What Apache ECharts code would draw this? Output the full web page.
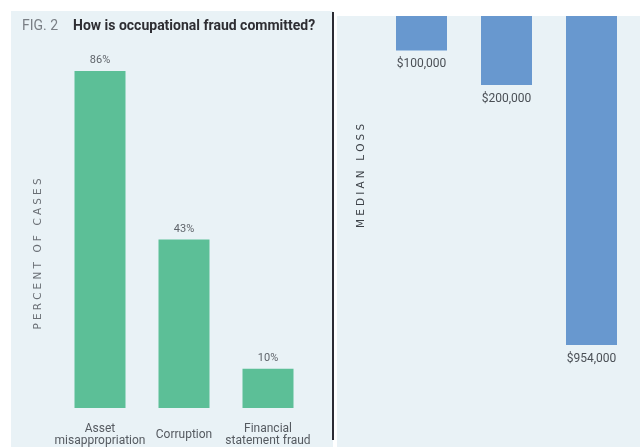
<!DOCTYPE html>
<html><head><meta charset="utf-8">
<script src="https://cdn.jsdelivr.net/npm/echarts@6/dist/echarts.min.js"></script>
<style>html,body{margin:0;padding:0;background:#fff}#c{width:640px;height:447px}</style>
</head><body><div id="c"></div>
<script>
const fraudCategories = ['Asset\nmisappropriation', 'Corruption', 'Financial\nstatement fraud'];
const percentOfCases = [86, 43, 10];
const medianLoss = [100000, 200000, 954000];
const leftAxisName = 'PERCENT OF CASES';
const rightAxisName = 'MEDIAN LOSS';

const FONT = "'Roboto', sans-serif";
const chart = echarts.init(document.getElementById('c'), null, {renderer: 'canvas'});
function spaced(s){return s.split('').join('\u2009\u200A');}
chart.setOption({
  backgroundColor: '#ffffff',
  animation: false,
  graphic: [
    {type:'rect', z:-10, shape:{x:11,y:11,width:322,height:436}, style:{fill:'#e9f2f6'}},
    {type:'rect', z:-10, shape:{x:337,y:16,width:303,height:431}, style:{fill:'#e9f2f6'}},
    {type:'line', z:5, shape:{x1:333,y1:12,x2:333,y2:440}, style:{stroke:'#2b2b33', lineWidth:2}},
    {type:'text', left:22, top:19, style:{text:'FIG. 2', font:"14px "+FONT, fill:'#7a7f85'}},
    {type:'text', left:73, top:19, style:{text:'How is occupational fraud committed?', font:"bold 14px "+FONT, fill:'#2e2e33'}},
    {type:'text', x:38, y:254, rotation:Math.PI/2, style:{text:spaced(leftAxisName), font:"10.5px 'DejaVu Sans', sans-serif", fill:'#6a6f75', align:'center', verticalAlign:'middle'}},
    {type:'text', x:361, y:176, rotation:Math.PI/2, style:{text:spaced(rightAxisName), font:"10.5px 'DejaVu Sans', sans-serif", fill:'#3d4248', align:'center', verticalAlign:'middle'}}
  ],
  grid: [
    {left:58, top:71, width:252, height:338},
    {left:379, top:16, width:255, height:420}
  ],
  xAxis: [
    {type:'category', gridIndex:0, data:fraudCategories, axisLine:{show:false}, axisTick:{show:false},
     axisLabel:{color:'#555a60', fontSize:12, fontFamily:FONT, lineHeight:12, margin:27, verticalAlign:'middle', interval:0}},
    {type:'category', gridIndex:1, data:fraudCategories, show:false}
  ],
  yAxis: [
    {type:'value', gridIndex:0, min:0, max:86, show:false},
    {type:'value', gridIndex:1, min:0, max:1218000, inverse:true, show:false}
  ],
  series: [
    {type:'bar', xAxisIndex:0, yAxisIndex:0, data:percentOfCases, barWidth:51,
     itemStyle:{color:'#5cbf97'},
     label:{show:true, position:'top', distance:5, color:'#5f646a', fontSize:11, fontFamily:FONT, formatter:p=>p.value+'%'}},
    {type:'bar', xAxisIndex:1, yAxisIndex:1, data:medianLoss, barWidth:51,
     itemStyle:{color:'#6898cf'},
     label:{show:true, position:'bottom', distance:8, color:'#4a4f55', fontSize:12, fontFamily:FONT,
       formatter:p=>'$'+p.value.toLocaleString('en-US')}}
  ]
});
</script></body></html>
